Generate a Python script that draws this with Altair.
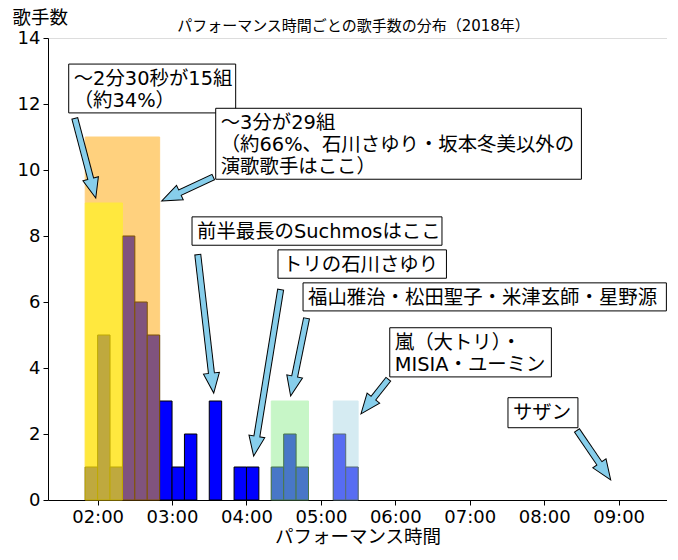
import math
import altair as alt
import pandas as pd

# ---------------- data ----------------
# histogram of performance length (seconds), 10-second bins
bin_start = [110, 120, 130, 140, 150, 160, 170, 180, 190, 210, 230, 240, 260, 270, 280, 310, 320]
counts = [1, 5, 1, 8, 6, 5, 3, 1, 2, 3, 1, 1, 1, 2, 1, 2, 1]
BIN = 10

# highlighted ranges
span_start = [110, 110, 260, 310]
span_end = [170, 140, 290, 330]
span_top = [11, 9, 3, 3]
span_color = ["#ffa500", "#ffff00", "#90ee90", "#add8e6"]

# annotations (text box extents in data units, arrow tail -> tip in data units)
note_text = [
    "〜2分30秒が15組\n（約34%）",
    "〜3分が29組\n（約66%、石川さゆり・坂本冬美以外の\n演歌歌手はここ）",
    "前半最長のSuchmosはここ",
    "トリの石川さゆり",
    "福山雅治・松田聖子・米津玄師・星野源",
    "嵐（大トリ）・\nMISIA・ユーミン",
    "サザン",
]
box_x0 = [96.7, 215.2, 196.1, 265.4, 285.6, 355.5, 450.8]
box_x1 = [231.3, 510.0, 397.6, 401.2, 578.5, 485.8, 507.2]
box_top = [13.21, 11.87, 8.58, 7.58, 6.58, 5.22, 3.10]
box_bot = [11.73, 9.72, 7.72, 6.72, 5.73, 3.73, 2.19]

tail_x = [101.5, 213.6, 200.7, 267.6, 288.5, 354.6, 506.2]
tail_y = [11.58, 9.79, 7.45, 6.39, 5.52, 3.67, 2.12]
tip_x = [118.5, 171.7, 213.6, 245.8, 275.6, 332.3, 533.6]
tip_y = [9.15, 9.06, 3.24, 1.33, 3.15, 2.61, 0.61]

x_ticks = [120, 180, 240, 300, 360, 420, 480, 540]
y_ticks = [0, 2, 4, 6, 8, 10, 12, 14]

# ---------------- layout ----------------
W, H = 619, 462
X0, X1 = 80, 579
Y0, Y1 = 0, 14
sx = W / (X1 - X0)
sy = H / (Y1 - Y0)
FONT = "DejaVu Sans, Noto Sans CJK JP"
HEAD_LEN = 20.0          # px
HEAD_HALF_W = 8.0        # px
HEAD_PATH = "M0,-1L-{w:.3f},1L{w:.3f},1Z".format(w=HEAD_HALF_W / (HEAD_LEN / 2))


def to_px(x, y):
    return (x - X0) * sx, (Y1 - y) * sy


def to_data(px, py):
    return X0 + px / sx, Y1 - py / sy


bars = pd.DataFrame({"start": bin_start,
                     "end": [s + BIN for s in bin_start],
                     "count": counts,
                     "zero": [0] * len(counts)})
spans = pd.DataFrame({"start": span_start, "end": span_end, "top": span_top,
                      "zero": [0] * len(span_top), "color": span_color,
                      "order": list(range(len(span_top)))})
boxes = pd.DataFrame({"x0": box_x0, "x1": box_x1, "top": box_top, "bot": box_bot,
                      "text": note_text, "order": list(range(len(note_text)))})

rows = []
for tx, ty, hx, hy in zip(tail_x, tail_y, tip_x, tip_y):
    tpx, tpy = to_px(tx, ty)
    hpx, hpy = to_px(hx, hy)
    dx, dy = hpx - tpx, hpy - tpy
    L = math.hypot(dx, dy)
    ux, uy = dx / L, dy / L
    cx, cy = to_data(hpx - ux * HEAD_LEN / 2, hpy - uy * HEAD_LEN / 2)
    bx, by = to_data(hpx - ux * HEAD_LEN, hpy - uy * HEAD_LEN)
    bx2, by2 = to_data(hpx - ux * (HEAD_LEN - 2), hpy - uy * (HEAD_LEN - 2))
    sx1, sy1 = to_data(tpx + ux * 1, tpy + uy * 1)
    ang = math.degrees(math.atan2(ux, -uy)) % 360
    rows.append(dict(tx=tx, ty=ty, bx=bx, by=by, sx1=sx1, sy1=sy1,
                     bx2=bx2, by2=by2, cx=cx, cy=cy, ang=ang))
arrows = pd.DataFrame(rows)

xs = alt.Scale(domain=[X0, X1], nice=False, zero=False)
ys = alt.Scale(domain=[Y0, Y1], nice=False, zero=False)
x_axis = alt.Axis(
    values=x_ticks, title="パフォーマンス時間", grid=False,
    labelExpr="(floor(datum.value/60) < 10 ? '0' : '') + floor(datum.value/60) + ':' + (datum.value % 60 < 10 ? '0' : '') + (datum.value % 60)",
    labelFontSize=18, titleFontSize=18.5, titleFontWeight="normal",
    labelFont=FONT, titleFont=FONT, labelColor="black", titleColor="black",
    tickColor="black", domainColor="black", tickSize=5, labelPadding=3,
    titlePadding=1, labelFlush=False,
)
y_axis = alt.Axis(
    values=y_ticks, title="歌手数", grid=False,
    labelFontSize=18, titleFontSize=18.5, titleFontWeight="normal",
    labelFont=FONT, titleFont=FONT, labelColor="black", titleColor="black",
    tickColor="black", domainColor="black", tickSize=5, labelPadding=3,
    titleAngle=0, titleAlign="left", titleBaseline="alphabetic",
    titleX=-36, titleY=-15,
)


def X(f):
    return alt.X(f, type="quantitative", scale=xs, axis=x_axis)


def Y(f):
    return alt.Y(f, type="quantitative", scale=ys, axis=y_axis)


bar_layer = alt.Chart(bars).mark_rect(fill="#0000ff", stroke="black", strokeWidth=1).encode(
    x=X("start"), x2="end", y=Y("zero"), y2="count")

span_layer = alt.Chart(spans).mark_rect(opacity=0.5, strokeWidth=1).encode(
    x=X("start"), x2="end", y=Y("zero"), y2="top",
    fill=alt.Fill("color:N", scale=None), stroke=alt.Stroke("color:N", scale=None),
    order="order:Q")

box_layer = alt.Chart(boxes).mark_rect(fill="white", stroke="black", strokeWidth=1).encode(
    x=X("x0"), x2="x1", y=Y("bot"), y2="top", order="order:Q")

text_layer = alt.Chart(boxes).mark_text(
    align="left", baseline="top", dx=5, dy=6, fontSize=19.4, lineHeight=22,
    lineBreak="\n", font=FONT, color="black").encode(
    x=X("x0"), y=Y("top"), text="text:N")

shaft_black = alt.Chart(arrows).mark_rule(color="black", strokeWidth=7, strokeCap="butt").encode(
    x=X("tx"), y=Y("ty"), x2="bx", y2="by")

heads = alt.Chart(arrows).mark_point(
    shape=HEAD_PATH, filled=True, fill="#87ceeb", stroke="black", strokeWidth=1,
    size=HEAD_LEN * HEAD_LEN, opacity=1).encode(
    x=X("cx"), y=Y("cy"), angle=alt.Angle("ang:Q", scale=None))

shaft_blue = alt.Chart(arrows).mark_rule(color="#87ceeb", strokeWidth=5, strokeCap="butt").encode(
    x=X("sx1"), y=Y("sy1"), x2="bx2", y2="by2")

title_layer = alt.Chart(pd.DataFrame({"t": ["パフォーマンス時間ごとの歌手数の分布（2018年）"]})).mark_text(
    fontSize=15, font=FONT, color="black", baseline="alphabetic", align="center").encode(
    x=alt.value(W / 2 - 4), y=alt.value(-7), text="t:N")

chart = alt.layer(
    bar_layer, span_layer, box_layer, text_layer, shaft_black, heads, shaft_blue, title_layer
).properties(
    width=W, height=H,
    padding={"left": 4, "top": 0, "right": 0, "bottom": 0},
).configure_view(
    stroke="black", strokeWidth=1
).configure(background="white")

chart.save("out.html", embed_options={"renderer": "svg", "actions": False})
